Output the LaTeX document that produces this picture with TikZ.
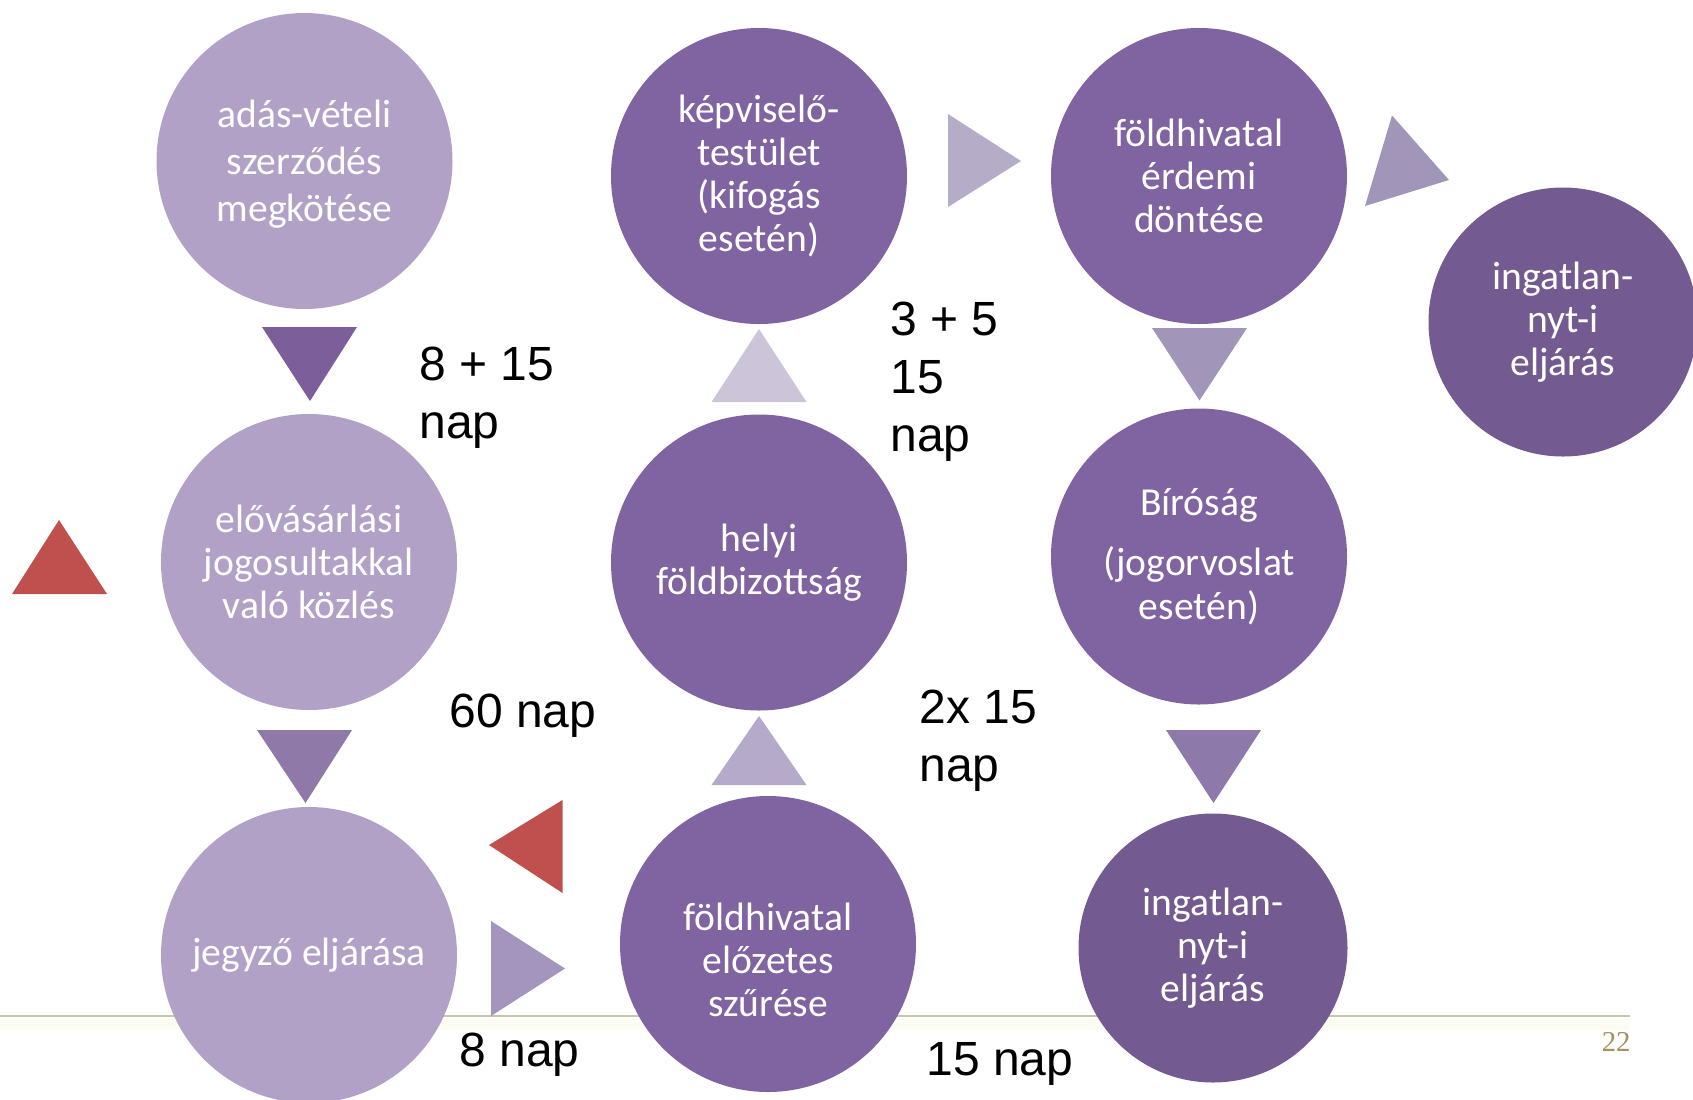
\documentclass[tikz,border=0pt]{standalone}
\usepackage{fontspec}
\setmainfont{Liberation Sans}
\newfontfamily\bubblefont{Carlito}
\newfontfamily\pagenumfont{Liberation Serif}

\definecolor{lilac}{HTML}{B2A1C7}
\definecolor{violet}{HTML}{8064A2}
\definecolor{deepviolet}{HTML}{735B91}
\definecolor{markred}{HTML}{C0504D}
\definecolor{rulecol}{HTML}{C3C7AC}
\definecolor{rulehaze}{HTML}{FCFCF2}
\definecolor{pagenum}{HTML}{A39260}

\tikzset{
  bubbletext/.style={inner sep=0pt, text=white, align=center,
    font=\bubblefont\fontsize{19.8}{21.6}\selectfont},
  bubble/.style={circle, minimum size=148pt, bubbletext},
  smallbubble/.style={bubble, minimum size=134.5pt},
  timelabel/.style={anchor=north west, inner sep=0pt, align=left,
    font=\fontsize{24}{29}\selectfont},
}

\begin{document}
\begin{tikzpicture}[x=0.5pt, y=-0.5pt]
\useasboundingbox (0,0) rectangle (1693,1099);

% footer rule
\fill[rulehaze] (0,1018) rectangle (1630,1030);
\draw[rulecol, line width=1.4pt] (0,1016) -- (1630,1016);

% first column
\node[bubble, fill=lilac,
  label={[bubbletext, name=contract-text, yshift=-1.6pt]center:adás-vételi\\[2.1pt]szerződés\\[2.1pt]megkötése}]
  (contract) at (304.5,161) {};
\node[bubble, fill=lilac] (notice) at (309,562) {elővásárlási\\jogosultakkal\\való közlés};
\node[bubble, fill=lilac] (notary) at (309,955) {jegyző eljárása};

% second column
\node[bubble, fill=violet] (council) at (759,176) {képviselő-\\testület\\(kifogás\\esetén)};
\node[bubble, fill=violet] (committee) at (759,562.5) {helyi\\földbizottság};
\node[bubble, fill=violet,
  label={[bubbletext, name=prefilter-text, yshift=-8pt]center:földhivatal\\előzetes\\szűrése}]
  (prefilter) at (768,944) {};

% third column
\node[bubble, fill=violet] (decision) at (1199,176) {földhivatal\\érdemi\\döntése};
\node[bubble, fill=violet] (court) at (1199,556.5) {Bíróság\\[8.6pt](jogorvoslat\\esetén)};
\node[smallbubble, fill=deepviolet] (registryB) at (1213,948) {ingatlan-\\nyt-i\\eljárás};
\node[smallbubble, fill=deepviolet] (registryR) at (1563,322) {ingatlan-\\nyt-i\\eljárás};

% direction markers
\fill[markred] (12,594) -- (107,594) -- (59,520) -- cycle;
\fill[fill={rgb,255:red,123;green,94;blue,154}] (262,327) -- (357,327) -- (310,401) -- cycle;
\fill[fill={rgb,255:red,142;green,121;blue,169}] (257,730) -- (352,730) -- (305.5,803) -- cycle;
\fill[markred] (489,845) -- (562.5,800) -- (562.5,893) -- cycle;
\fill[fill={rgb,255:red,163;green,149;blue,189}] (491,921) -- (491,1016) -- (565,968.5) -- cycle;
\fill[fill={rgb,255:red,181;green,170;blue,201}] (711.5,785) -- (806.5,785) -- (759,716) -- cycle;
\fill[fill={rgb,255:red,204;green,197;blue,217}] (711.5,402) -- (806.5,402) -- (759,329) -- cycle;
\fill[fill={rgb,255:red,181;green,172;blue,200}] (948,114) -- (948,207) -- (1021,161) -- cycle;
\fill[fill={rgb,255:red,162;green,149;blue,186}] (1152,328) -- (1247,328) -- (1199.5,400.5) -- cycle;
\fill[fill={rgb,255:red,142;green,122;blue,170}] (1166,730) -- (1261,730) -- (1213.5,803) -- cycle;
\fill[fill={rgb,255:red,162;green,149;blue,186}] (1392,115.5) -- (1449,180) -- (1365,206) -- cycle;

% deadlines
\node[timelabel] (t1) at (419,347) {8 + 15\\nap};
\node[timelabel] (t2) at (449,694) {60 nap};
\node[timelabel] (t3) at (890,302) {3 + 5\\15\\nap};
\node[timelabel] (t4) at (919,690) {2x 15\\nap};
\node[timelabel] (t5) at (459,1033) {8 nap};
\node[timelabel] (t6) at (926,1042) {15 nap};

% page number
\node[anchor=base east, inner sep=0pt, text=pagenum,
  font=\pagenumfont\fontsize{14.4}{16}\selectfont] (pnum) at (1631,1051) {22};
\end{tikzpicture}
\end{document}
